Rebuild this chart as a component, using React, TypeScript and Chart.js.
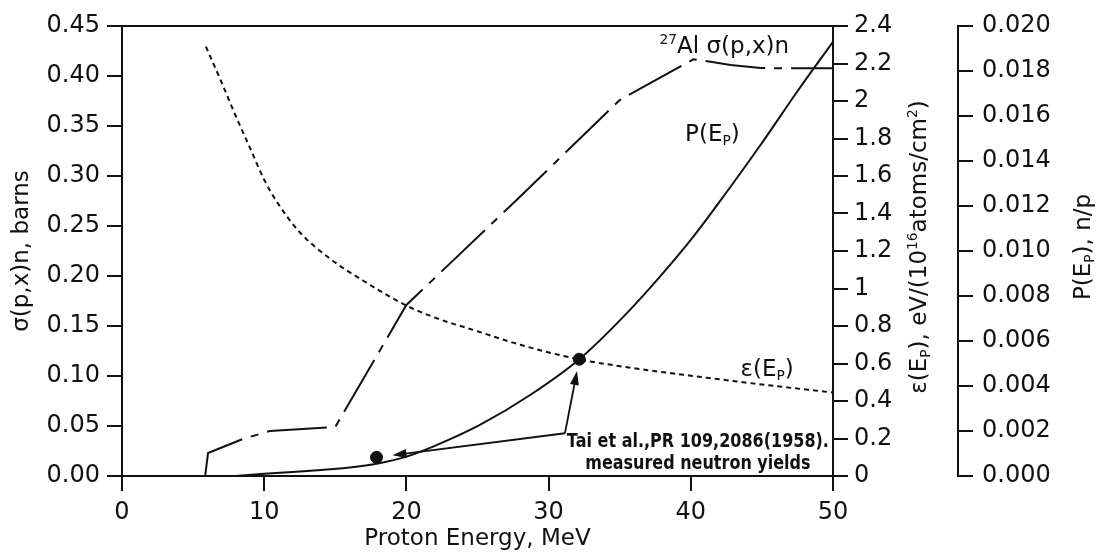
import React, { useEffect, useRef } from "react";
import { Chart, registerables } from "chart.js";

Chart.register(...registerables);

// ---------- data ----------
// 27Al sigma(p,x)n cross section, barns (left axis)
const sigmaEnergy = [5.85, 6.05, 8.5, 10.4, 15.0, 15.2, 20.0, 27.75, 35.0, 40.18, 41.5, 42.8, 44.9, 47.0, 50.0];
const sigmaBarns = [0, 0.023, 0.037, 0.045, 0.049, 0.054, 0.171, 0.276, 0.376, 0.4167, 0.414, 0.411, 0.408, 0.4077, 0.4077];

// stopping cross section epsilon(Ep), eV/(10^16 atoms/cm^2) (first right axis)
const epsEnergy = [5.9, 7.0, 8.0, 9.0, 10.0, 11.0, 12.5, 14.7, 17.0, 19.97, 22.0, 25.0, 28.0, 32.16, 36.0, 40.0, 45.0, 50.0];
const epsValue = [2.29, 2.1, 1.92, 1.75, 1.58, 1.45, 1.3, 1.155, 1.04, 0.91, 0.845, 0.772, 0.7, 0.622, 0.575, 0.535, 0.488, 0.445];

// thick-target neutron yield P(Ep), n/p (second right axis)
const yieldEnergy = [8, 10, 12, 14, 16, 18, 20, 22, 25.2, 28.7, 32.16, 35.49, 37.83, 40.18, 42.5, 45, 47.5, 50];
const yieldValue = [0, 0.0001, 0.00018, 0.00027, 0.00038, 0.00056, 0.00086, 0.00134, 0.00228, 0.0036, 0.00519, 0.00723, 0.00886, 0.01064, 0.0126, 0.0148, 0.0171, 0.0193];

// Tai et al. measured neutron yields
const taiEnergy = [17.9, 32.16];
const taiYield = [0.00083, 0.00519];

// axis ranges / ticks
const energyRange = [0, 50, 10];
const sigmaRange = [0, 0.45, 0.05];
const epsRange = [0, 2.4, 0.2];
const yieldRange = [0, 0.02, 0.002];

// annotation anchors (data space: energy, barns); arrow vertex (energy, n/p)
const arrowVertex = [31.15, 0.0019];
const sigmaLabelAt = [37.8, 0.431];
const yieldLabelAt = [39.6, 0.343];
const epsLabelAt = [43.5, 0.108];
const taiLabelAt = [40.5, 0.036, 0.014];
const taiLines = ["Tai et al.,PR 109,2086(1958).", "measured neutron yields"];

// ---------- styling ----------
const INK = "#111";
const FAMILY = "'DejaVu Sans', 'Liberation Sans', sans-serif";

type Run = { t: string; s?: number; dy?: number };

function runsWidth(ctx: CanvasRenderingContext2D, runs: Run[], size: number, weight: string) {
  return runs.map((r) => {
    ctx.font = `${weight} ${size * (r.s ?? 1)}px ${FAMILY}`;
    return ctx.measureText(r.t).width;
  });
}

// draws runs with baseline at y; align: left / center
function drawRuns(
  ctx: CanvasRenderingContext2D,
  runs: Run[],
  x: number,
  y: number,
  size: number,
  align: "left" | "center",
  weight = "normal"
) {
  const widths = runsWidth(ctx, runs, size, weight);
  const total = widths.reduce((a, b) => a + b, 0);
  let cx = align === "center" ? x - total / 2 : x;
  ctx.textAlign = "left";
  ctx.textBaseline = "alphabetic";
  runs.forEach((r, i) => {
    ctx.font = `${weight} ${size * (r.s ?? 1)}px ${FAMILY}`;
    ctx.fillText(r.t, cx, y + (r.dy ?? 0) * size);
    cx += widths[i];
  });
}

const sub = (t: string): Run => ({ t, s: 0.6, dy: 0.18 });
const sup = (t: string): Run => ({ t, s: 0.6, dy: -0.42 });

const epsTitle: Run[] = [
  { t: "ε(E" }, sub("P"), { t: "), eV/(10" }, sup("16"), { t: "atoms/cm" }, sup("2"), { t: ")" },
];
const yieldTitle: Run[] = [{ t: "P(E" }, sub("P"), { t: "), n/p" }];
const sigmaLabel: Run[] = [sup("27"), { t: "Al σ(p,x)n" }];
const yieldLabel: Run[] = [{ t: "P(E" }, sub("P"), { t: ")" }];
const epsLabel: Run[] = [{ t: "ε(E" }, sub("P"), { t: ")" }];

const annotationPlugin = {
  id: "annotations",
  afterDatasetsDraw(chart: any) {
    const { ctx, chartArea, scales } = chart;
    const xs = scales.x;
    const yb = scales.y;
    const yp = scales.y2;
    ctx.save();
    ctx.strokeStyle = INK;
    ctx.fillStyle = INK;

    // top frame line
    ctx.lineWidth = 2;
    ctx.beginPath();
    ctx.moveTo(chartArea.left - 1, chartArea.top);
    ctx.lineTo(chartArea.right + 1, chartArea.top);
    ctx.stroke();

    // arrows from label to measured points
    const vx = xs.getPixelForValue(arrowVertex[0]);
    const vy = yp.getPixelForValue(arrowVertex[1]);
    const gaps = [16, 12];
    taiEnergy.forEach((e, i) => {
      const px = xs.getPixelForValue(e);
      const py = yp.getPixelForValue(taiYield[i]);
      const dx = px - vx;
      const dy = py - vy;
      const len = Math.hypot(dx, dy);
      const ux = dx / len;
      const uy = dy / len;
      const tx = px - ux * gaps[i];
      const ty = py - uy * gaps[i];
      const hl = 14;
      const hw = 4.5;
      ctx.lineWidth = 1.8;
      ctx.beginPath();
      ctx.moveTo(vx, vy);
      ctx.lineTo(tx - ux * hl * 0.8, ty - uy * hl * 0.8);
      ctx.stroke();
      ctx.beginPath();
      ctx.moveTo(tx, ty);
      ctx.lineTo(tx - ux * hl - uy * hw, ty - uy * hl + ux * hw);
      ctx.lineTo(tx - ux * hl + uy * hw, ty - uy * hl - ux * hw);
      ctx.closePath();
      ctx.fill();
    });

    // curve labels (anchor = left edge, vertical centre)
    const size = 23;
    const place = (runs: Run[], at: number[]) => {
      const x = xs.getPixelForValue(at[0]);
      const y = yb.getPixelForValue(at[1]) + size * 0.36;
      drawRuns(ctx, runs, x, y, size, "left");
    };
    place(sigmaLabel, sigmaLabelAt);
    place(yieldLabel, yieldLabelAt);
    place(epsLabel, epsLabelAt);

    // Tai et al. label: condensed bold, centered lines
    const cxT = xs.getPixelForValue(taiLabelAt[0]);
    const squeeze = 0.8;
    taiLines.forEach((line, i) => {
      const y = yb.getPixelForValue(taiLabelAt[1 + i]) + 20 * 0.36;
      ctx.save();
      ctx.translate(cxT, y);
      ctx.scale(squeeze, 1);
      ctx.font = `bold 20px ${FAMILY}`;
      ctx.textAlign = "center";
      ctx.textBaseline = "alphabetic";
      ctx.fillText(line, 0, 0);
      ctx.restore();
    });
    ctx.restore();
  },
  afterDraw(chart: any) {
    const { ctx, chartArea, scales } = chart;
    const cy = (chartArea.top + chartArea.bottom) / 2 - 4;
    const size = 23;
    ctx.save();
    ctx.fillStyle = INK;
    const vertical = (runs: Run[], cx: number) => {
      ctx.save();
      ctx.translate(cx, cy);
      ctx.rotate(-Math.PI / 2);
      drawRuns(ctx, runs, 0, size * 0.36, size, "center");
      ctx.restore();
    };
    vertical(epsTitle, scales.y1.right - 40);
    vertical(yieldTitle, scales.y2.right - 16);
    ctx.restore();
  },
};

function axisCommon() {
  return {
    grid: { drawOnChartArea: false, drawTicks: true, tickLength: 15, color: INK, lineWidth: 2 },
    border: { display: true, color: INK, width: 2 },
  };
}

export default function App() {
  const ref = useRef<HTMLCanvasElement | null>(null);

  useEffect(() => {
    document.body.style.margin = "0";
    const canvas = ref.current;
    if (!canvas) return;
    const tickFont = { family: FAMILY, size: 24 };

    const chart = new Chart(canvas, {
      type: "line",
      data: {
        datasets: [
          {
            label: "Tai et al.",
            data: taiEnergy.map((x, i) => ({ x, y: taiYield[i] })),
            yAxisID: "y2",
            showLine: false,
            pointRadius: 6,
            pointBackgroundColor: INK,
            pointBorderColor: INK,
            borderColor: INK,
          },
          {
            label: "sigma",
            data: sigmaEnergy.map((x, i) => ({ x, y: sigmaBarns[i] })),
            yAxisID: "y",
            borderColor: INK,
            borderWidth: 2,
            borderDash: [60, 9, 8, 9],
            pointRadius: 0,
            tension: 0,
            fill: false,
          },
          {
            label: "epsilon",
            data: epsEnergy.map((x, i) => ({ x, y: epsValue[i] })),
            yAxisID: "y1",
            borderColor: INK,
            borderWidth: 2,
            borderDash: [5, 4],
            pointRadius: 0,
            cubicInterpolationMode: "monotone",
            fill: false,
          },
          {
            label: "P",
            data: yieldEnergy.map((x, i) => ({ x, y: yieldValue[i] })),
            yAxisID: "y2",
            borderColor: INK,
            borderWidth: 2,
            pointRadius: 0,
            cubicInterpolationMode: "monotone",
            fill: false,
          },
        ],
      },
      options: {
        responsive: false,
        animation: false,
        layout: { padding: { top: 26, left: 0, right: 0, bottom: 0 } },
        plugins: { legend: { display: false }, tooltip: { enabled: false } },
        scales: {
          x: {
            type: "linear",
            position: "bottom",
            min: energyRange[0],
            max: energyRange[1],
            ticks: { stepSize: energyRange[2], color: INK, font: tickFont, padding: 7, maxRotation: 0 },
            ...axisCommon(),
            title: {
              display: true,
              text: "Proton Energy, MeV",
              color: INK,
              font: { family: FAMILY, size: 23 },
              padding: { top: 0, bottom: 0 },
            },
            afterFit: (s: any) => {
              s.height = 77;
            },
          },
          y: {
            type: "linear",
            position: "left",
            min: sigmaRange[0],
            max: sigmaRange[1],
            ticks: {
              stepSize: sigmaRange[2],
              color: INK,
              font: tickFont,
              padding: 7,
              callback: (v: any) => Number(v).toFixed(2),
            },
            ...axisCommon(),
            title: {
              display: true,
              text: "σ(p,x)n, barns",
              color: INK,
              font: { family: FAMILY, size: 23 },
              padding: { top: 8, bottom: 0 },
            },
            afterFit: (s: any) => {
              s.width = 122;
            },
          },
          y1: {
            type: "linear",
            position: "right",
            min: epsRange[0],
            max: epsRange[1],
            ticks: {
              stepSize: epsRange[2],
              color: INK,
              font: tickFont,
              padding: 6,
              callback: (v: any) => String(Math.round(Number(v) * 10) / 10),
            },
            ...axisCommon(),
            afterFit: (s: any) => {
              s.width = 125;
            },
          },
          y2: {
            type: "linear",
            position: "right",
            min: yieldRange[0],
            max: yieldRange[1],
            ticks: {
              stepSize: yieldRange[2],
              color: INK,
              font: tickFont,
              padding: 9,
              callback: (v: any) => Number(v).toFixed(3),
            },
            ...axisCommon(),
            afterFit: (s: any) => {
              s.width = 140;
            },
          },
        },
      } as any,
      plugins: [annotationPlugin],
    });
    return () => chart.destroy();
  }, []);

  return <canvas ref={ref} width={1098} height={553} style={{ display: "block" }} />;
}
